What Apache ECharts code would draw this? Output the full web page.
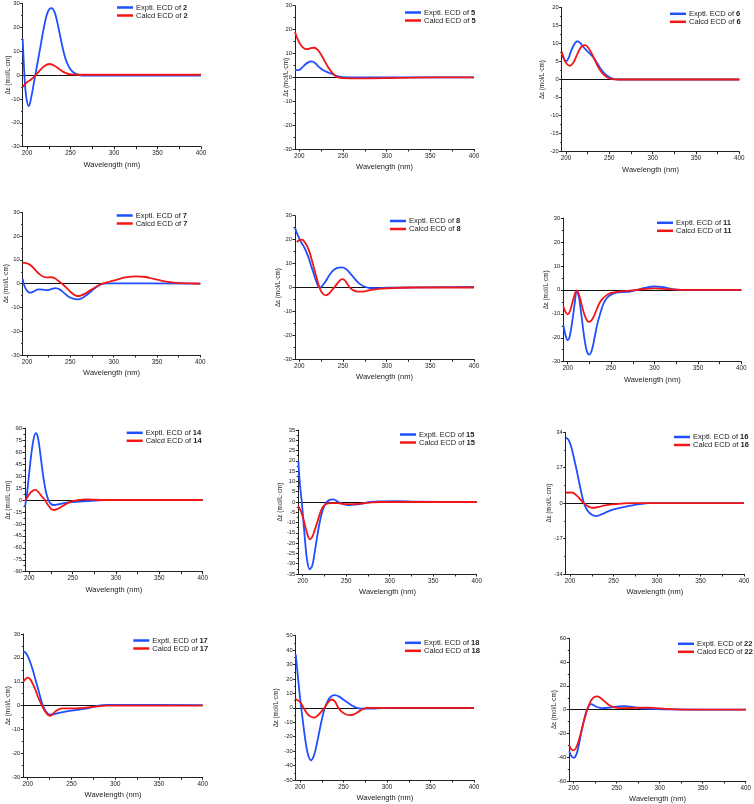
<!DOCTYPE html>
<html><head><meta charset="utf-8">
<script src="https://cdn.jsdelivr.net/npm/echarts@6/dist/echarts.min.js"></script>
<style>html,body{margin:0;padding:0;background:#fff}#c{width:754px;height:804px}</style>
</head><body><div id="c"></div>
<script>
// ---------- data ----------
const compounds = ['2','5','6','7','8','11','14','15','16','17','18','22'];
const yMin  = [-30,-30,-20,-30,-30,-30,-90,-35,-34,-30,-50,-60];
const yMax  = [30,30,20,30,30,30,90,35,34,30,50,60];
const yStep = [10,10,5,10,10,10,15,5,17,10,10,20];
const xLabelTicks = [200,250,300,350,400];
const xAllTicks = [200,225,250,275,300,325,350,375,400];

const exptl2 = [[195,15],[197,0],[199,-9],[202,-13],[205,-9],[208,-3],[211,3],[215,11],[220,21],[224,26.5],[228,28],[232,26],[236,20],[240,13],[244,7],[248,3.5],[252,1.5],[256,0.5],[260,0],[265,-0.3],[300,-0.3],[350,-0.2],[400,-0.2]];
const calcd2 = [[195,-5],[200,-3],[205,-1.8],[210,0],[215,2],[220,3.8],[226,4.6],[232,3.8],[238,2.2],[244,0.9],[250,0.3],[260,0.1],[400,0.1]];

const exptl5 = [[195,3],[199,3],[203,4],[207,5.5],[211,6.5],[214,6.7],[218,6],[222,4.5],[226,3.3],[230,2.5],[235,1.7],[240,1],[245,0.4],[250,0.1],[260,0],[400,0]];
const calcd5 = [[195,19],[198,16],[202,13.3],[206,12],[209,11.8],[213,12.2],[217,12.4],[221,11.5],[225,9.5],[229,6.8],[233,4.2],[237,2.2],[241,0.7],[245,-0.1],[250,-0.3],[270,-0.4],[300,-0.3],[330,-0.1],[400,0]];

const exptl6 = [[195,7.3],[198,5.5],[200,5],[203,6],[206,8],[210,10],[213,10.6],[216,10.2],[220,9],[224,8],[228,7],[232,6],[236,4.5],[240,3],[244,1.8],[248,1],[252,0.4],[256,0.1],[260,0],[400,0]];
const calcd6 = [[195,7.7],[198,5.5],[201,4.3],[204,3.8],[208,4.5],[212,6.5],[216,8.5],[219,9.3],[222,9.5],[225,9],[229,7.5],[233,5.5],[237,3.5],[241,2],[245,1],[249,0.4],[253,0.1],[260,0],[400,0]];

const exptl7 = [[195,2],[197,-1],[200,-3],[204,-3.8],[208,-3.2],[213,-2.4],[218,-2.5],[223,-2.7],[228,-2.3],[233,-1.9],[238,-2.5],[243,-4],[248,-5.5],[253,-6.3],[258,-6.6],[263,-6.2],[268,-5],[273,-3.5],[278,-2],[283,-0.7],[288,0],[295,0.1],[400,0]];
const calcd7 = [[195,8.8],[199,8.6],[203,8],[207,6.8],[211,5.2],[215,3.8],[219,2.9],[223,2.6],[228,2.7],[232,2.3],[236,1.2],[240,0.1],[244,-1.2],[249,-3],[254,-4.6],[258,-5.2],[262,-5],[267,-4.2],[272,-3],[277,-1.9],[282,-0.9],[287,0],[295,0.8],[305,1.8],[315,2.7],[326,3.1],[337,2.8],[347,1.9],[357,1.1],[367,0.5],[377,0.2],[390,0.1],[400,0]];

const exptl8 = [[195,25],[198,22],[202,19],[206,16.5],[210,13],[214,8.5],[218,4],[221,1],[223,0],[226,0.6],[230,2.5],[235,5.5],[240,7.5],[245,8.3],[249,8.4],[253,7.8],[258,6],[263,3.8],[268,1.8],[273,0.6],[278,0],[283,-0.3],[290,-0.3],[300,-0.1],[400,0.3]];
const calcd8 = [[197,19],[200,19.8],[203,20],[207,18.5],[211,15.5],[215,10.5],[219,5],[223,0],[226,-2.2],[230,-3.3],[234,-2.5],[238,-0.8],[242,1],[246,2.8],[249,3.5],[252,3],[255,1.5],[258,-0.1],[262,-1.2],[267,-1.7],[272,-1.7],[278,-1.3],[285,-0.9],[295,-0.5],[310,-0.2],[330,0],[400,0]];

const exptl11 = [[195,-14.5],[198,-19.5],[200,-21],[202,-20],[205,-14],[208,-6],[210.5,-0.5],[213,-3],[216,-11],[219,-19.5],[222,-25.5],[225,-27],[228,-25],[231,-20],[234,-14.5],[237,-10.5],[241,-6],[245,-3.5],[250,-2],[256,-1.2],[265,-0.9],[272,-0.7],[280,0],[290,0.9],[300,1.4],[310,1.1],[320,0.3],[330,0],[400,0]];
const calcd11 = [[195,-7],[198,-9.5],[200,-10.2],[203,-8.5],[206,-4.5],[209,-1],[210.5,-0.2],[213,-2],[216,-6],[220,-11],[224.6,-13.4],[228,-12.5],[232,-9.5],[236,-6],[240,-3.8],[245,-2.2],[250,-1.3],[258,-0.7],[268,-0.4],[280,0],[300,0.6],[315,0.3],[330,0],[400,0]];

const exptl14 = [[195,-8],[197,5],[199,25],[202,55],[205,77],[207.5,84],[210,78],[213,55],[216,30],[219,11],[222,0],[225,-5],[228,-6.3],[233,-5.5],[240,-3.8],[250,-2.5],[262,-1.7],[275,-0.8],[290,0],[400,0]];
const calcd14 = [[195,-1],[198,4],[202,10],[206.5,12.6],[210,10.5],[214,5],[218,0],[222,-7],[225,-11],[228,-12.6],[232,-11.5],[237,-8.5],[243,-4.5],[250,-1.5],[257,0],[264,0.8],[272,0.5],[285,0],[400,0]];

const exptl15 = [[195,20],[197,8],[199,0],[201,-10],[203,-20],[205,-28],[208,-32.7],[211,-31],[214,-24],[217,-16],[220,-9],[223,-4],[226,-1],[229,0.5],[232,1.2],[235,1.3],[238,0.8],[241,0],[246,-0.9],[253,-1.5],[260,-1.3],[268,-0.8],[278,0],[290,0.3],[310,0.4],[330,0.2],[400,0]];
const calcd15 = [[195,-2],[198,-4.5],[201,-8.5],[204,-13.5],[206,-16.5],[208.5,-18.2],[211,-17],[214,-13.5],[217,-9.5],[220,-5.5],[223,-2.6],[227,-1],[232,-0.5],[240,-0.5],[250,-1],[260,-1],[270,-0.6],[280,-0.2],[290,0],[400,0]];

const exptl16 = [[195,31.5],[198,30.5],[201,27.5],[204,22.5],[207,17],[210,11],[213,5],[216,0],[220,-3.5],[225,-5.6],[230,-6.2],[236,-5.4],[243,-4.1],[250,-3],[260,-2],[270,-1.2],[280,-0.5],[290,0],[400,0]];
const calcd16 = [[195,5],[199,5.1],[203,5],[206,4.3],[210,2.7],[213,1.2],[216,0],[220,-1.4],[224,-2.1],[228,-2.2],[233,-1.8],[240,-1.1],[248,-0.6],[260,-0.2],[270,0],[400,0]];

const exptl17 = [[195,22.8],[198,22],[201,20],[204,17],[207,13.5],[210,9.5],[213,5.5],[216,1.5],[218,-0.5],[221,-2.5],[225,-3.8],[230,-3.6],[236,-3],[243,-2.5],[250,-2.1],[262,-1.5],[272,-0.8],[281,0],[290,0.3],[310,0.3],[400,0.2]];
const calcd17 = [[195,10],[198,11.3],[200,11.7],[203,11],[206,9],[209,6.5],[212,3.5],[215,1],[217,-0.5],[220,-2.5],[223,-3.8],[225.5,-4.3],[228,-3.8],[231,-2.6],[235,-1.6],[240,-1.1],[250,-1.1],[260,-1],[270,-0.7],[280,-0.3],[290,0],[400,0]];

const exptl18 = [[195,37],[197.5,22],[200,7],[203,-8],[206,-22],[209,-32],[212.5,-36.3],[216,-33],[220,-23],[224,-11],[228,-1],[232,5],[236,8],[240,8.8],[245,7.8],[250,5.6],[255,3.5],[260,1.5],[265,0],[272,-0.6],[282,-0.5],[295,-0.2],[310,0],[400,0]];
const calcd18 = [[195,5.8],[198,5],[201,3.2],[204,0],[208,-3.8],[212,-6],[216.5,-6.7],[220,-5.5],[224,-3],[228,0],[232,3.5],[236,5.8],[240,4.5],[244,0],[248,-2.8],[253,-4.6],[257.5,-5.1],[262,-4.5],[267,-2.8],[272,-1],[277,0],[400,0]];

const exptl22 = [[195,-35],[197,-38.5],[200,-40.5],[203,-38],[206,-30],[209,-19],[212,-9],[215,-1],[218,3.5],[220.5,4.7],[224,3.5],[228,2],[233,1.3],[240,1.6],[246,2.2],[252,2.8],[259,3],[266,2.6],[274,1.6],[284,0.9],[295,0.5],[310,0.2],[400,0]];
const calcd22 = [[195,-30],[197,-33],[200,-34.3],[203,-32],[206,-26],[209,-18],[212,-9.5],[215,-2],[218,4],[221,8.5],[224,10.7],[227.3,11.2],[231,10],[236,7],[241,4],[246,2.2],[252,1.5],[260,1.3],[268,1.4],[277,1.7],[286,1.7],[295,1.3],[305,0.8],[318,0.3],[330,0],[400,0]];

const exptlData = [exptl2,exptl5,exptl6,exptl7,exptl8,exptl11,exptl14,exptl15,exptl16,exptl17,exptl18,exptl22];
const calcdData = [calcd2,calcd5,calcd6,calcd7,calcd8,calcd11,calcd14,calcd15,calcd16,calcd17,calcd18,calcd22];

// ---------- layout (pixels) ----------
const gridBoxes = [
  [22.7,3.3,178.3,143.4],[295,5.7,179,143.3],[561.7,7.3,177.6,144.4],
  [22.7,212.3,177.6,142.7],[295,215.7,179,143.6],[563.3,218,178,143.7],
  [25,428.3,177.7,143.4],[298.3,430,178.4,144],[565.7,432.3,178.3,141.7],
  [23.3,634,179.4,143.3],[295.7,635.7,178.3,144.3],[569.3,638.3,178.4,143.4]
];
const yNameGaps = [11.2,5.8,16.8,13.5,14.1,14.1,14.1,14.8,13.2,11.8,16.5,11.8];
const legendPos = [
  [117,3.5],[405,8.5],[670,9.8],
  [116.7,211.5],[390,217],[657,218.8],
  [126.7,428.8],[400,430.5],[674,433],
  [133.3,636.5],[405,638.8],[678,639.8]
];

const BLUE = '#1f4fff', RED = '#f21616', INK = '#222';
const FONT = 'Liberation Sans, Arial, sans-serif';

const option = {animation:false, backgroundColor:'#fff', grid:[], xAxis:[], yAxis:[], series:[], legend:[]};
compounds.forEach((c,i)=>{
  const g = gridBoxes[i];
  option.grid.push({left:g[0], top:g[1], width:g[2], height:g[3], containLabel:false});
  option.xAxis.push({
    type:'value', gridIndex:i, min:195, max:400,
    name:'Wavelength (nm)', nameLocation:'middle', nameGap:14, nameMoveOverlap:false,
    nameTextStyle:{fontSize:7.5, color:INK, fontFamily:FONT},
    axisLine:{onZero:false, lineStyle:{color:INK, width:1}},
    axisTick:{show:true, length:2.5, customValues:xAllTicks, lineStyle:{color:INK}},
    axisLabel:{customValues:xLabelTicks, fontSize:6.3, color:INK, margin:4, fontFamily:FONT},
    splitLine:{show:false}
  });
  option.yAxis.push({
    type:'value', gridIndex:i, min:yMin[i], max:yMax[i], interval:yStep[i],
    name:'Δε (mol/L·cm)', nameLocation:'middle', nameGap:yNameGaps[i], nameRotate:90, nameMoveOverlap:false,
    nameTextStyle:{fontSize:6.3, color:INK, fontFamily:FONT},
    axisLine:{show:true, onZero:false, lineStyle:{color:INK, width:1}},
    axisTick:{show:true, length:2.5, lineStyle:{color:INK}},
    minorTick:{show:true, splitNumber:2, length:1.5, lineStyle:{color:INK}},
    axisLabel:{fontSize:5.8, color:INK, margin:3, fontFamily:FONT},
    splitLine:{show:false}
  });
  const nE = 'Exptl. ECD of ' + c, nC = 'Calcd ECD of ' + c;
  option.series.push({
    name:nE, type:'line', xAxisIndex:i, yAxisIndex:i, data:exptlData[i],
    smooth:0.35, showSymbol:false, lineStyle:{color:BLUE, width:1.8}, itemStyle:{color:BLUE}, z:3,
    markLine:{silent:true, symbol:'none', label:{show:false}, lineStyle:{color:'#111', width:1, type:'solid'}, data:[{yAxis:0}], z:1}
  });
  option.series.push({
    name:nC, type:'line', xAxisIndex:i, yAxisIndex:i, data:calcdData[i],
    smooth:0.35, showSymbol:false, lineStyle:{color:RED, width:1.8}, itemStyle:{color:RED}, z:4
  });
  const lp = legendPos[i];
  option.legend.push({
    data:[nE, nC], left:lp[0], top:lp[1], orient:'vertical', padding:0, itemGap:0,
    itemWidth:16, itemHeight:2.5, icon:'rect',
    formatter:(name)=>{const k=name.lastIndexOf(' '); return '{n|'+name.slice(0,k+1)+'}{b|'+name.slice(k+1)+'}';},
    textStyle:{fontSize:7.5, color:INK, padding:[0,0,0,-2], rich:{n:{fontSize:7.5, color:INK, fontFamily:FONT, lineHeight:10.3}, b:{fontSize:7.5, fontWeight:'bold', color:INK, fontFamily:FONT, lineHeight:10.3}}}
  });
});
const chart = echarts.init(document.getElementById('c'), null, {renderer:'canvas'});
chart.setOption(option);
</script></body></html>
